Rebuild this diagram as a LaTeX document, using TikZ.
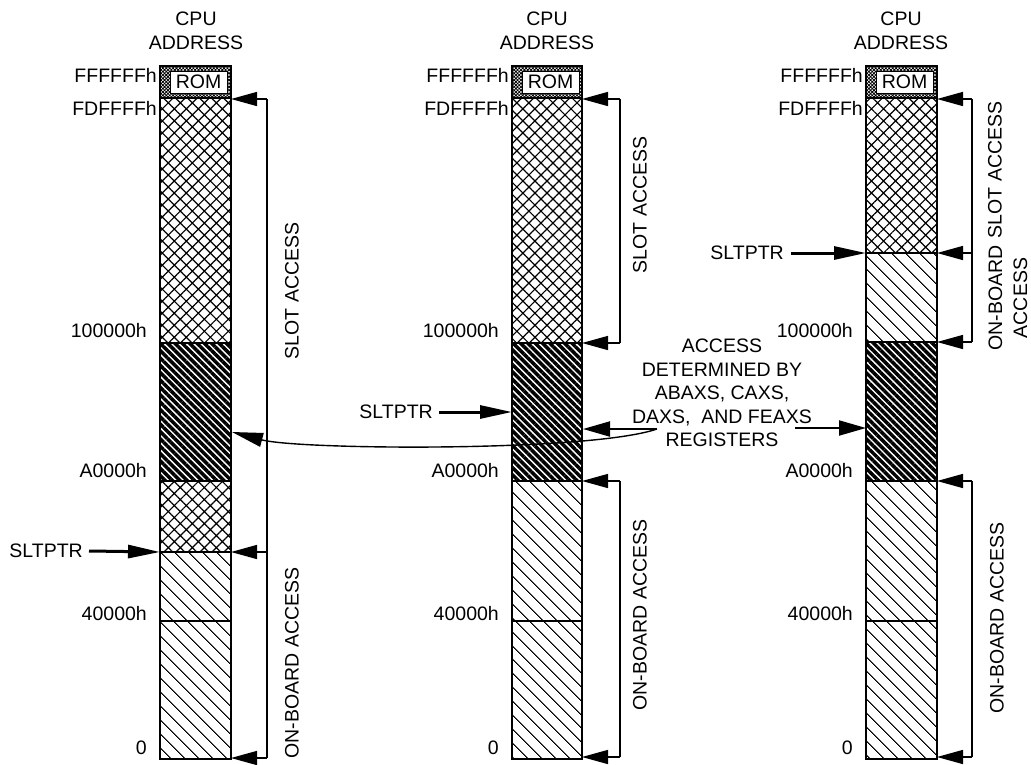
\documentclass[tikz,border=0pt]{standalone}
\usepackage{fontspec}
\setmainfont{Liberation Sans}
\usetikzlibrary{arrows.meta,patterns.meta}
\begin{document}
\begin{tikzpicture}[x=1pt,y=-1pt,
  lbl/.style={font=\fontsize{19.5}{23.5}\selectfont, inner sep=0pt},
  addr/.style={lbl, anchor=east},
  vlbl/.style={lbl, rotate=90, align=center, font=\fontsize{19.5}{25}\selectfont},
  colframe/.style={draw=black, line width=2pt},
  divider/.style={draw=black, line width=1.4pt},
  xhatch/.style={pattern={Hatch[angle=45,distance=8.5pt,line width=1.2pt]}},
  lhatch/.style={pattern={Lines[angle=-45,distance=10.5pt,line width=1.1pt]}},
  dhatch/.style={pattern={Lines[angle=-45,distance=5.2pt,line width=3.5pt]}},
  romhatch/.style={pattern={Hatch[angle=45,distance=2.4pt,line width=0.8pt]}},
  rombox/.style={draw, fill=white, line width=0.5pt, minimum width=57pt, minimum height=22pt, inner sep=0pt, font=\fontsize{19.5}{19.5}\selectfont},
  brk/.style={line width=1.4pt},
  brkarrow/.style={line width=1.4pt, -{Triangle[length=26pt,width=14pt]}},
  ptrarrow/.style={line width=3pt, -{Triangle[length=32pt,width=13pt]}},
  regarrow/.style={line width=2pt, -{Triangle[length=27pt,width=15pt]}},
  curvearrow/.style={line width=1.4pt, -{Triangle[length=31pt,width=14pt]}},
]
\useasboundingbox (0,0) rectangle (1031,764);
\clip (0,0) rectangle (1031,764);

% ---------------- Column 1 ----------------
\path[romhatch] (160,66) rectangle (231,98);
\path[xhatch] (160,98) rectangle (231,343);
\path[dhatch] (160,343) rectangle (231,481);
\path[xhatch] (160,481) rectangle (231,552);
\path[lhatch] (160,552) rectangle (231,759);
\foreach \yy in {98,343,481,552,621} \draw[divider] (160,\yy) -- (231,\yy);
\draw[colframe] (160,66) rectangle (231,759);
\node[rombox] (rom1) at (198.5,82) {ROM};

% ---------------- Column 2 ----------------
\path[romhatch] (512,66) rectangle (582,98);
\path[xhatch] (512,98) rectangle (582,343);
\path[dhatch] (512,343) rectangle (582,481);
\path[lhatch] (512,481) rectangle (582,759);
\foreach \yy in {98,343,481,621} \draw[divider] (512,\yy) -- (582,\yy);
\draw[colframe] (512,66) rectangle (582,759);
\node[rombox] (rom2) at (550.5,82) {ROM};

% ---------------- Column 3 ----------------
\path[romhatch] (866,66) rectangle (937,98);
\path[xhatch] (866,98) rectangle (937,253);
\path[lhatch] (866,253) rectangle (937,342);
\path[dhatch] (866,342) rectangle (937,481);
\path[lhatch] (866,481) rectangle (937,759);
\foreach \yy in {98,253,342,481,621} \draw[divider] (866,\yy) -- (937,\yy);
\draw[colframe] (866,66) rectangle (937,759);
\node[rombox] (rom3) at (904.5,82) {ROM};

% ---------------- headings ----------------
\node[lbl, align=center] (h1) at (196,31) {CPU\\ADDRESS};
\node[lbl, align=center] (h2) at (547,31) {CPU\\ADDRESS};
\node[lbl, align=center] (h3) at (901,31) {CPU\\ADDRESS};

% ---------------- address labels ----------------
\foreach \L/\c in {160/a,512/b,866/c} {
  \node[addr] (ff\c) at (\L-3,75) {FFFFFFh};
  \node[addr] (fd\c) at (\L-3,108) {FDFFFFh};
  \node[addr] (hk\c) at (\L-13,331) {100000h};
  \node[addr] (ak\c) at (\L-13,471) {A0000h};
  \node[addr] (fk\c) at (\L-13,614) {40000h};
  \node[addr] (zz\c) at (\L-13,748) {0};
}

% ---------------- bracket coordinates ----------------
\coordinate (c1a) at (231,99);  \coordinate (b1a) at (267,99);
\coordinate (c1b) at (231,552); \coordinate (b1b) at (267,552);
\coordinate (c1c) at (231,758); \coordinate (b1c) at (267,758);

\coordinate (c2a) at (582,99);  \coordinate (b2a) at (620,99);
\coordinate (c2b) at (582,343); \coordinate (b2b) at (620,343);
\coordinate (c2c) at (582,481); \coordinate (b2c) at (620,481);
\coordinate (c2d) at (582,757); \coordinate (b2d) at (620,757);

\coordinate (c3a) at (937,99);  \coordinate (b3a) at (972,99);
\coordinate (c3b) at (937,253); \coordinate (b3b) at (972,253);
\coordinate (c3c) at (937,342); \coordinate (b3c) at (972,342);
\coordinate (c3d) at (937,481); \coordinate (b3d) at (972,481);
\coordinate (c3e) at (937,757); \coordinate (b3e) at (972,757);

% ---------------- brackets ----------------
\draw[brk] (b1a) -- (b1c);
\foreach \b/\c in {b1a/c1a,b1b/c1b,b1c/c1c} \draw[brkarrow] (\b) -- (\c);
\draw[brk] (b2a) -- (b2b);
\draw[brk] (b2c) -- (b2d);
\foreach \b/\c in {b2a/c2a,b2b/c2b,b2c/c2c,b2d/c2d} \draw[brkarrow] (\b) -- (\c);
\draw[brk] (b3a) -- (b3c);
\draw[brk] (b3d) -- (b3e);
\foreach \b/\c in {b3a/c3a,b3b/c3b,b3c/c3c,b3d/c3d,b3e/c3e} \draw[brkarrow] (\b) -- (\c);

% ---------------- bracket labels ----------------
\node[vlbl] (s1) at (292,291) {SLOT ACCESS};
\node[vlbl] (o1) at (292,663) {ON-BOARD ACCESS};
\node[vlbl] (s2) at (640,205) {SLOT ACCESS};
\node[vlbl] (o2) at (640,615) {ON-BOARD ACCESS};
\node[vlbl] (s3) at (995,170) {SLOT ACCESS};
\node[vlbl] (m3) at (1008,298) {ON-BOARD\\ACCESS};
\node[vlbl] (o3) at (997,618) {ON-BOARD ACCESS};

% ---------------- SLTPTR pointers ----------------
\node[lbl, anchor=east] (p1) at (83,551) {SLTPTR};
\coordinate (q1) at (160,552);
\draw[ptrarrow] ([xshift=6pt]p1.east) -- (q1);
\node[lbl, anchor=east] (p2) at (433,412) {SLTPTR};
\coordinate (q2) at (512,412);
\draw[ptrarrow] ([xshift=6pt]p2.east) -- (q2);
\node[lbl, anchor=east] (p3) at (784,253) {SLTPTR};
\coordinate (q3) at (866,253);
\draw[ptrarrow] ([xshift=7pt]p3.east) -- (q3);

% ---------------- register access note ----------------
\node[lbl, align=center] (reg) at (722,393) {ACCESS\\DETERMINED BY\\ABAXS, CAXS,\\DAXS,\ \ AND FEAXS\\REGISTERS};
\coordinate (rs) at (657,429);
\coordinate (re) at (795,428);
\coordinate (r1) at (232,432);
\coordinate (r2) at (583,429);
\coordinate (r3) at (866,428);
\draw[curvearrow] (rs) .. controls (590,452) and (300,450) .. (r1);
\draw[regarrow] (rs) -- (r2);
\draw[regarrow] (re) -- (r3);
\end{tikzpicture}
\end{document}
